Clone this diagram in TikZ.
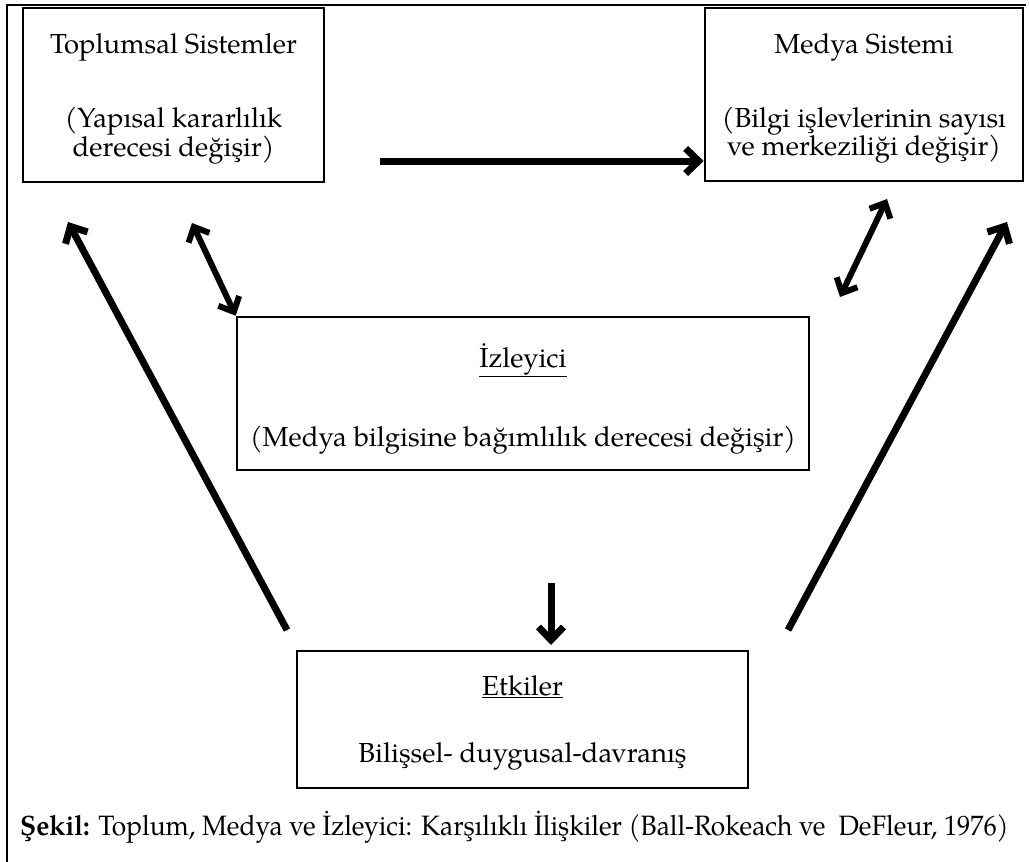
\documentclass[tikz,border=0pt]{standalone}
\usepackage{fontspec}
\setmainfont{TeX Gyre Pagella}
\newfontfamily\capfont[FakeStretch=0.94]{TeX Gyre Pagella}
\usetikzlibrary{arrows.meta}
\begin{document}
\begin{tikzpicture}[x=1pt,y=-1pt,
  box/.style={draw, line width=2.6pt, inner sep=0pt},
  lbl/.style={anchor=base, inner sep=0pt, font=\fontsize{27.5}{31}\selectfont},
  arrowbase/.style={line width=7pt,
    preaction={draw=black!30, transform canvas={shift={(1.2,1.8)}}}},
  arr/.style={arrowbase, -{Straight Barb[length=13pt,width=25pt]}},
  dbl/.style={arrowbase, line width=6pt, {Straight Barb[length=12pt,width=23pt]}-{Straight Barb[length=12pt,width=23pt]}},
]
\useasboundingbox (0,0) rectangle (1029,862);
% frame
\draw[line width=2.6pt] (1026,5) -- (7,5) -- (7,862);
% boxes
\node[box, minimum width=301pt, minimum height=174pt] (top) at (173.5,95) {};
\node[box, minimum width=318pt, minimum height=173pt] (med) at (864,94.5) {};
\node[box, minimum width=572pt, minimum height=153pt] (izl) at (523,393.5) {};
\node[box, minimum width=451pt, minimum height=137pt] (etk) at (522.5,719.5) {};
% texts
\node[lbl] (t1) at (173.5,53) {Toplumsal Sistemler};
\node[lbl] (t2) at (173.5,127) {(Yapısal kararlılık};
\node[lbl] (t3) at (173.5,156) {derecesi değişir)};
\node[lbl] (m1) at (864,53) {Medya Sistemi};
\node[lbl] (m2) at (864,127) {(Bilgi işlevlerinin sayısı};
\node[lbl] (m3) at (864,155) {ve merkeziliği değişir)};
\node[lbl] (i1) at (523,367) {\underline{İzleyici}};
\node[lbl] (i2) at (523,446) {(Medya bilgisine bağımlılık derecesi değişir)};
\node[lbl] (e1) at (522.5,695) {\underline{Etkiler}};
\node[lbl] (e2) at (522.5,762) {Bilişsel- duygusal-davranış};
\node[anchor=base west, inner sep=0pt, font=\capfont\fontsize{28}{32}\selectfont] (cap) at (20,835)
  {\textbf{Şekil:} Toplum, Medya ve İzleyici: Karşılıklı İlişkiler (Ball-Rokeach ve\ \ DeFleur, 1976)};
% connector end points
\coordinate (h1) at (380,161);
\coordinate (ld1) at (192,223);
\coordinate (rd1) at (887,199);
\coordinate (rd2) at (840,297);
\coordinate (ll1) at (287,630);
\coordinate (ll2) at (68,222);
\coordinate (rl1) at (788,630);
\coordinate (rl2) at (1007,222);
\coordinate (d1) at (551,583);
\coordinate (d2) at (551,645);
% connectors
\draw[arr] (h1) -- (med.west |- h1);
\draw[dbl] (ld1) -- (izl.north west);
\draw[dbl] (rd1) -- (rd2);
\draw[arr] (ll1) -- (ll2);
\draw[arr] (rl1) -- (rl2);
\draw[arr] (d1) -- (d2);
\end{tikzpicture}
\end{document}
